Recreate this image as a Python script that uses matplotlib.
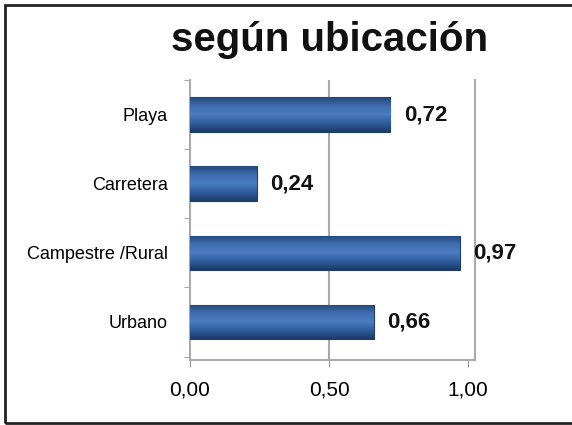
#! /usr/bin/env python3

import matplotlib.pyplot as plt
import numpy as np
from matplotlib.patches import Rectangle

plt.rcParams['font.family'] = ['Liberation Sans', 'DejaVu Sans']

categorias = ["Urbano", "Campestre /Rural", "Carretera", "Playa"]
valores = [0.66, 0.97, 0.24, 0.72]
etiquetas = ["0,66", "0,97", "0,24", "0,72"]
ticks_x = [0.0, 0.5, 1.0]
ticks_x_txt = ["0,00", "0,50", "1,00"]

fig = plt.figure(figsize=(5.72, 4.25), dpi=100)
ax = fig.add_axes([190/572, 65/425, 285/572, 280/425])

pos = np.arange(len(categorias))
bars = ax.barh(pos, valores, height=0.5, color="#3564A6", edgecolor="#1E3F6E", linewidth=0.8, zorder=3)

# efecto cilindro: degradado vertical recortado a cada barra
grad = np.linspace(0, 1, 64).reshape(-1, 1)
cmap = plt.matplotlib.colors.LinearSegmentedColormap.from_list(
    "cil", ["#1C3A66", "#2F5E9E", "#4A7CC0", "#3E6DB0", "#234878"])
for b in bars:
    x0, y0 = b.get_x(), b.get_y()
    w, h = b.get_width(), b.get_height()
    im = ax.imshow(grad, extent=[x0, x0 + w, y0, y0 + h], cmap=cmap,
                   aspect="auto", origin="lower", zorder=4)
    im.set_clip_path(b)

for p, v, t in zip(pos, valores, etiquetas):
    ax.annotate(t, (v, p), xytext=(10, 0), textcoords="offset points",
                ha="left", va="center", fontsize=16, fontweight="bold", color="#111111")

ax.set_xlim(0, 1.025)
ax.set_ylim(-0.55, 3.5)
ax.set_xticks(ticks_x)
ax.set_xticklabels(ticks_x_txt, fontsize=15)
ax.set_yticks(pos)
ax.set_yticklabels(categorias, fontsize=13)
ax.set_yticks([-0.5, 0.5, 1.5, 2.5, 3.5], minor=True)

ax.tick_params(axis="y", which="major", length=0, pad=16)
ax.tick_params(axis="y", which="minor", length=4, color="#999999")
ax.tick_params(axis="x", length=5, color="#999999", pad=10)

ax.axvline(0.5, color="#AAAAAA", linewidth=1.5, zorder=0)
for s in ["left", "bottom", "right"]:
    ax.spines[s].set_color("#AAAAAA")
    ax.spines[s].set_linewidth(1.5)
ax.spines["top"].set_visible(False)

fig.text(330/572, 1 - 40/425, "según ubicación", ha="center", va="center",
         fontsize=29, fontweight="bold", color="#111111")

fig.patches.append(Rectangle((5/572, 2/425), 1.0, 418/425, transform=fig.transFigure,
                             fill=False, edgecolor="#222222", linewidth=2))

fig.savefig("out.png", dpi=100)
